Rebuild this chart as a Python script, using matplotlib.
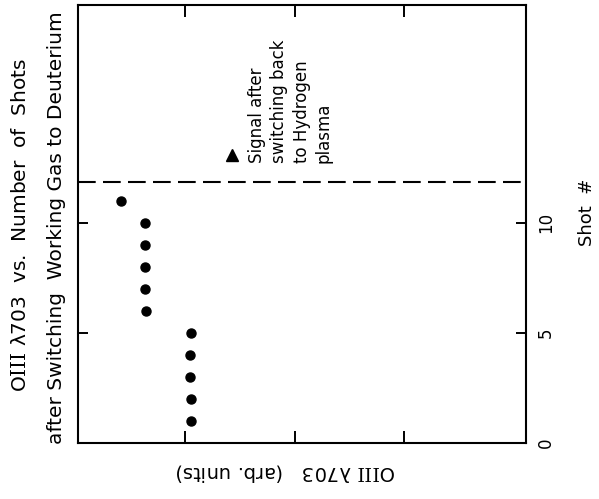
import matplotlib.pyplot as plt

# OIII 703 signal per shot after switching the working gas to deuterium
shots_d2 = [1, 2, 3, 4, 5, 6, 7, 8, 9, 10, 11]
signal_d2 = [2.95, 2.95, 2.96, 2.96, 2.95, 3.36, 3.37, 3.37, 3.37, 3.37, 3.59]

# signal after switching back to hydrogen
shot_h2 = [13.1]
signal_h2 = [2.57]

switch_shot = 11.85
shot_ticks = [0, 5, 10]
signal_ticks = [1, 2, 3]

plt.rcParams['font.family'] = 'DejaVu Sans'
plt.rcParams['mathtext.fontset'] = 'custom'
plt.rcParams['mathtext.rm'] = 'DejaVu Serif'

ion = r'O$\mathrm{III}$'

fig = plt.figure(figsize=(5.99, 4.99), dpi=100)
ax = fig.add_axes([78/599, 56/499, 448/599, 438/499])

# figure is drawn turned on its side: shot number runs upward, signal to the left
ax.plot(signal_d2, shots_d2, 'o', color='black', markersize=6.5)
ax.plot(signal_h2, shot_h2, '^', color='black', markersize=8)
ax.axhline(switch_shot, color='black', lw=1.5, dashes=(8.5, 3.5))

ax.set_xlim(3.98, -0.11)
ax.set_ylim(0, 19.9)

ax.set_yticks(shot_ticks)
ax.set_yticklabels([str(s) for s in shot_ticks])
ax.set_xticks(signal_ticks)
ax.set_xticklabels([])
ax.tick_params(axis='y', direction='in', left=True, right=True,
               labelleft=False, labelright=True, labelrotation=90,
               length=7, width=1.4, pad=8, labelsize=12)
ax.tick_params(axis='x', direction='in', top=True, bottom=True,
               length=8.5, width=1.4)
for lbl in ax.get_yticklabels():
    lbl.set_va('center')
for sp in ax.spines.values():
    sp.set_linewidth(1.5)

ax.annotate('Signal after\nswitching back\nto Hydrogen\nplasma',
            xy=(signal_h2[0], shot_h2[0]), xycoords='data',
            xytext=(58, -8), textcoords='offset pixels',
            rotation=90, ha='center', va='bottom', multialignment='left',
            fontsize=12, linespacing=1.3)

fig.text(21/599, 1 - 225/499, ion + ' λ703  vs.  Number  of  Shots',
         rotation=90, ha='center', va='center', fontsize=14.5)
fig.text(57/599, 1 - 228/499, 'after Switching  Working Gas to Deuterium',
         rotation=90, ha='center', va='center', fontsize=14.5)
fig.text(286/599, 1 - 473/499, ion + ' λ703   (arb. units)',
         rotation=180, ha='center', va='center', fontsize=14)
fig.text(587/599, 1 - 212/499, 'Shot  #',
         rotation=90, ha='center', va='center', fontsize=13)

fig.savefig('out.png', dpi=100)
